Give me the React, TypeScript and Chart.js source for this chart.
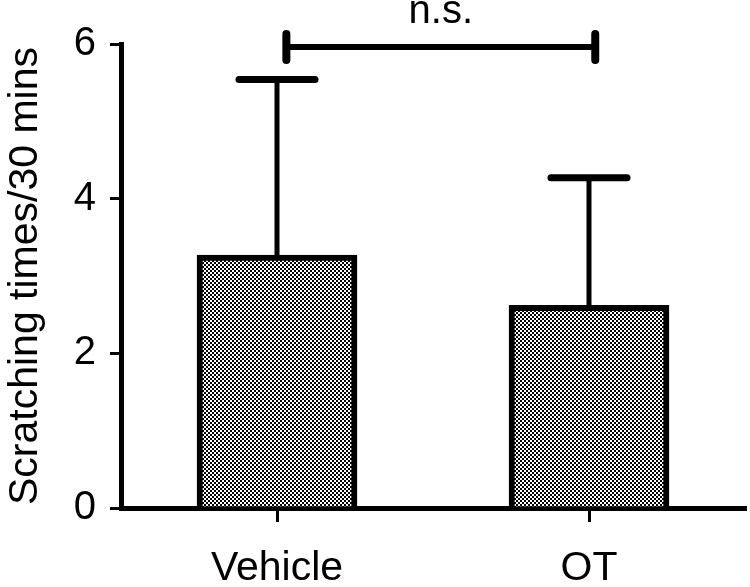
import React, { useEffect, useRef } from "react";
import { Chart, registerables } from "chart.js";

Chart.register(...registerables);

const CATEGORIES = ["Vehicle", "OT"];
const MEANS = [3.27, 2.62];
const UPPER = [5.54, 4.27];
const Y_TICKS = [0, 2, 4, 6];
const BRACKET_FROM = 0.03;
const BRACKET_TO = 1.02;
const BRACKET_Y = 5.96;
const BRACKET_LABEL = "n.s.";
const Y_TITLE = "Scratching times/30 mins";

const FONT = "'Liberation Sans', Arial, sans-serif";

function makePattern(): CanvasPattern | string {
  const c = document.createElement("canvas");
  c.width = 4;
  c.height = 4;
  const g = c.getContext("2d");
  if (!g) return "#808080";
  g.fillStyle = "#fff";
  g.fillRect(0, 0, 4, 4);
  g.fillStyle = "#000";
  g.fillRect(0, 0, 2, 2);
  g.fillRect(2, 2, 2, 2);
  const ctx = document.createElement("canvas").getContext("2d");
  return (ctx && ctx.createPattern(c, "repeat")) || "#808080";
}

const errorBarPlugin = {
  id: "errorBars",
  afterDatasetsDraw(chart: any) {
    const ctx = chart.ctx;
    const y = chart.scales.y;
    const meta = chart.getDatasetMeta(0);
    ctx.save();
    ctx.strokeStyle = "#000";
    meta.data.forEach((bar: any, i: number) => {
      const top = y.getPixelForValue(UPPER[i]);
      ctx.lineCap = "butt";
      ctx.lineWidth = 5;
      ctx.beginPath();
      ctx.moveTo(bar.x, bar.y);
      ctx.lineTo(bar.x, top);
      ctx.stroke();
      ctx.lineCap = "round";
      ctx.lineWidth = 7;
      ctx.beginPath();
      ctx.moveTo(bar.x - 38, top);
      ctx.lineTo(bar.x + 38, top);
      ctx.stroke();
    });
    ctx.restore();
  },
};

const bracketPlugin = {
  id: "bracket",
  afterDraw(chart: any) {
    const ctx = chart.ctx;
    const xs = chart.scales.x;
    const ys = chart.scales.y;
    const x1 = xs.getPixelForValue(BRACKET_FROM);
    const x2 = xs.getPixelForValue(BRACKET_TO);
    const yb = ys.getPixelForValue(BRACKET_Y);
    ctx.save();
    ctx.strokeStyle = "#000";
    ctx.lineWidth = 6;
    ctx.lineCap = "butt";
    ctx.beginPath();
    ctx.moveTo(x1, yb);
    ctx.lineTo(x2, yb);
    ctx.stroke();
    ctx.lineWidth = 8;
    ctx.lineCap = "round";
    ctx.beginPath();
    ctx.moveTo(x1, yb - 13);
    ctx.lineTo(x1, yb + 13);
    ctx.moveTo(x2, yb - 13);
    ctx.lineTo(x2, yb + 13);
    ctx.stroke();
    ctx.fillStyle = "#000";
    ctx.font = `40px ${FONT}`;
    ctx.textAlign = "center";
    ctx.textBaseline = "alphabetic";
    ctx.fillText(BRACKET_LABEL, (x1 + x2) / 2, yb - 24);
    ctx.restore();
  },
};

export default function App() {
  const ref = useRef<HTMLCanvasElement | null>(null);

  useEffect(() => {
    if (!ref.current) return;
    const pattern = makePattern();
    const chart = new Chart(ref.current, {
      type: "bar",
      data: {
        datasets: [
          {
            data: MEANS.map((v, i) => ({ x: i, y: v })),
            backgroundColor: pattern as any,
            borderColor: "#000",
            borderWidth: 6,
            barThickness: 160,
          },
        ],
      },
      options: {
        responsive: false,
        animation: false,
        events: [],
        layout: { padding: { top: 44, right: 5, left: 0, bottom: 0 } },
        plugins: {
          legend: { display: false },
          tooltip: { enabled: false },
        },
        scales: {
          x: {
            type: "linear",
            offset: false,
            min: -0.5,
            max: 1.5,
            afterBuildTicks: (scale: any) => {
              scale.ticks = CATEGORIES.map((_, i) => ({ value: i }));
            },
            afterFit: (scale: any) => {
              scale.height = 79;
            },
            ticks: {
              callback: (v: any) => CATEGORIES[v] ?? "",
              color: "#000",
              font: { size: 41, family: FONT },
              padding: 22,
              maxRotation: 0,
            },
            grid: {
              offset: false,
              drawOnChartArea: false,
              drawTicks: true,
              tickLength: 14,
              color: "#000",
              lineWidth: 3,
            },
            border: { color: "#000", width: 5 },
          },
          y: {
            min: 0,
            max: 6,
            afterBuildTicks: (scale: any) => {
              scale.ticks = Y_TICKS.map((v) => ({ value: v }));
            },
            afterFit: (scale: any) => {
              scale.width = 121;
            },
            ticks: {
              color: "#000",
              font: { size: 40, family: FONT },
              padding: 14,
            },
            grid: {
              drawOnChartArea: false,
              drawTicks: true,
              tickLength: 11,
              color: "#000",
              lineWidth: 3,
            },
            border: { color: "#000", width: 5 },
            title: {
              display: true,
              text: Y_TITLE,
              color: "#000",
              font: { size: 41, family: FONT, lineHeight: 1 },
              padding: { top: 5, bottom: 0 },
            },
          },
        },
      },
      plugins: [errorBarPlugin, bracketPlugin],
    });
    return () => chart.destroy();
  }, []);

  return (
    <div style={{ position: "fixed", left: 0, top: 0, width: 750, height: 587, background: "#fff" }}>
      <canvas ref={ref} width={750} height={587} />
    </div>
  );
}
